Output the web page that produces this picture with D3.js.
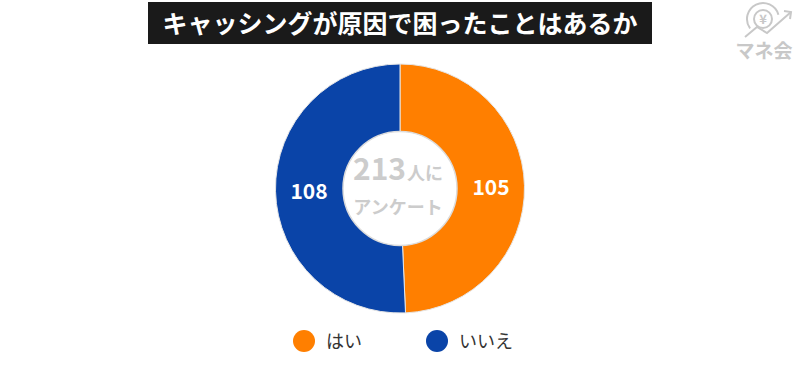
<!DOCTYPE html>
<html><head><meta charset="utf-8">
<script src="https://cdn.jsdelivr.net/npm/d3@7"></script>
<style>body{margin:0;background:#fff;}svg{display:block;font-family:"Noto Sans CJK JP","Noto Sans",sans-serif;}</style>
</head><body>
<script>
const title = "キャッシングが原因で困ったことはあるか";
const categories = ["はい", "いいえ"];
const values = [105, 108];
const colors = ["#FF7F00", "#0A44A8"];
const total = 213;

const W = 800, H = 390;
const svg = d3.select("body").append("svg").attr("width", W).attr("height", H);

// title
svg.append("rect").attr("x", 148).attr("y", 2).attr("width", 504).attr("height", 42).attr("fill", "#1a1a1a");
svg.append("text").attr("x", 400).attr("y", 33).attr("text-anchor", "middle")
  .attr("fill", "#fff").attr("font-size", 25).attr("font-weight", "bold").text(title);

// pie
const cx = 400, cy = 188.5, R = 124.5, r = 57;
const g = svg.append("g").attr("transform", `translate(${cx},${cy})`);
const pie = d3.pie().sort(null).value(d => d)(values);
const arc = d3.arc().innerRadius(0).outerRadius(R);
g.selectAll("path.s").data(pie).enter().append("path").attr("class", "s")
  .attr("d", arc).attr("fill", (d, i) => colors[i]).attr("stroke", "#e6e6e6").attr("stroke-width", 1);
g.append("circle").attr("r", r).attr("fill", "#fff").attr("stroke", "#dcdcdc").attr("stroke-width", 1.5);

const labelArc = d3.arc().innerRadius(91).outerRadius(91);
g.selectAll("text.v").data(pie).enter().append("text").attr("class", "v")
  .attr("x", d => labelArc.centroid(d)[0]).attr("y", d => labelArc.centroid(d)[1] + 8)
  .attr("text-anchor", "middle").attr("fill", "#fff").attr("font-size", 21).attr("font-weight", "bold")
  .text(d => d.data);

// center text
const ct = g.append("text").attr("text-anchor", "middle").attr("x", -2).attr("y", -9).attr("fill", "#cccccc").attr("font-weight", "bold");
ct.append("tspan").attr("font-size", 30).text(total);
ct.append("tspan").attr("font-size", 18).attr("dx", 1).text("人に");
g.append("text").attr("text-anchor", "middle").attr("x", -2).attr("y", 25).attr("fill", "#cccccc")
  .attr("font-weight", "bold").attr("font-size", 18).text("アンケート");

// legend
const lx = [304, 437];
const lg = svg.selectAll("g.lg").data(categories).enter().append("g").attr("class", "lg")
  .attr("transform", (d, i) => `translate(${lx[i]},341)`);
lg.append("circle").attr("r", 11).attr("fill", (d, i) => colors[i]);
lg.append("text").attr("x", 22).attr("y", 6.5).attr("font-size", 18).attr("fill", "#333").text(d => d);

// logo
const lgo = svg.append("g").attr("transform", "translate(763,19)").attr("fill", "none").attr("stroke", "#c8c8c8").attr("stroke-width", 2);
lgo.append("path").attr("d", d3.arc().innerRadius(16).outerRadius(16).startAngle(-2.2).endAngle(1.3)());
lgo.append("circle").attr("r", 9);
lgo.append("path").attr("d", "M-18,18 L-6,8 L4,14 L28,-7");
lgo.append("path").attr("d", "M21,-8 L28,-7 L27,0");
lgo.append("text").attr("x", 0).attr("y", 5).attr("text-anchor", "middle").attr("stroke", "none").attr("fill", "#c8c8c8")
  .attr("font-size", 13).attr("font-weight", "bold").text("¥");
svg.append("text").attr("x", 764).attr("y", 58).attr("text-anchor", "middle").attr("fill", "#c8c8c8")
  .attr("font-size", 19).attr("font-weight", "bold").text("マネ会");
</script>
</body></html>
